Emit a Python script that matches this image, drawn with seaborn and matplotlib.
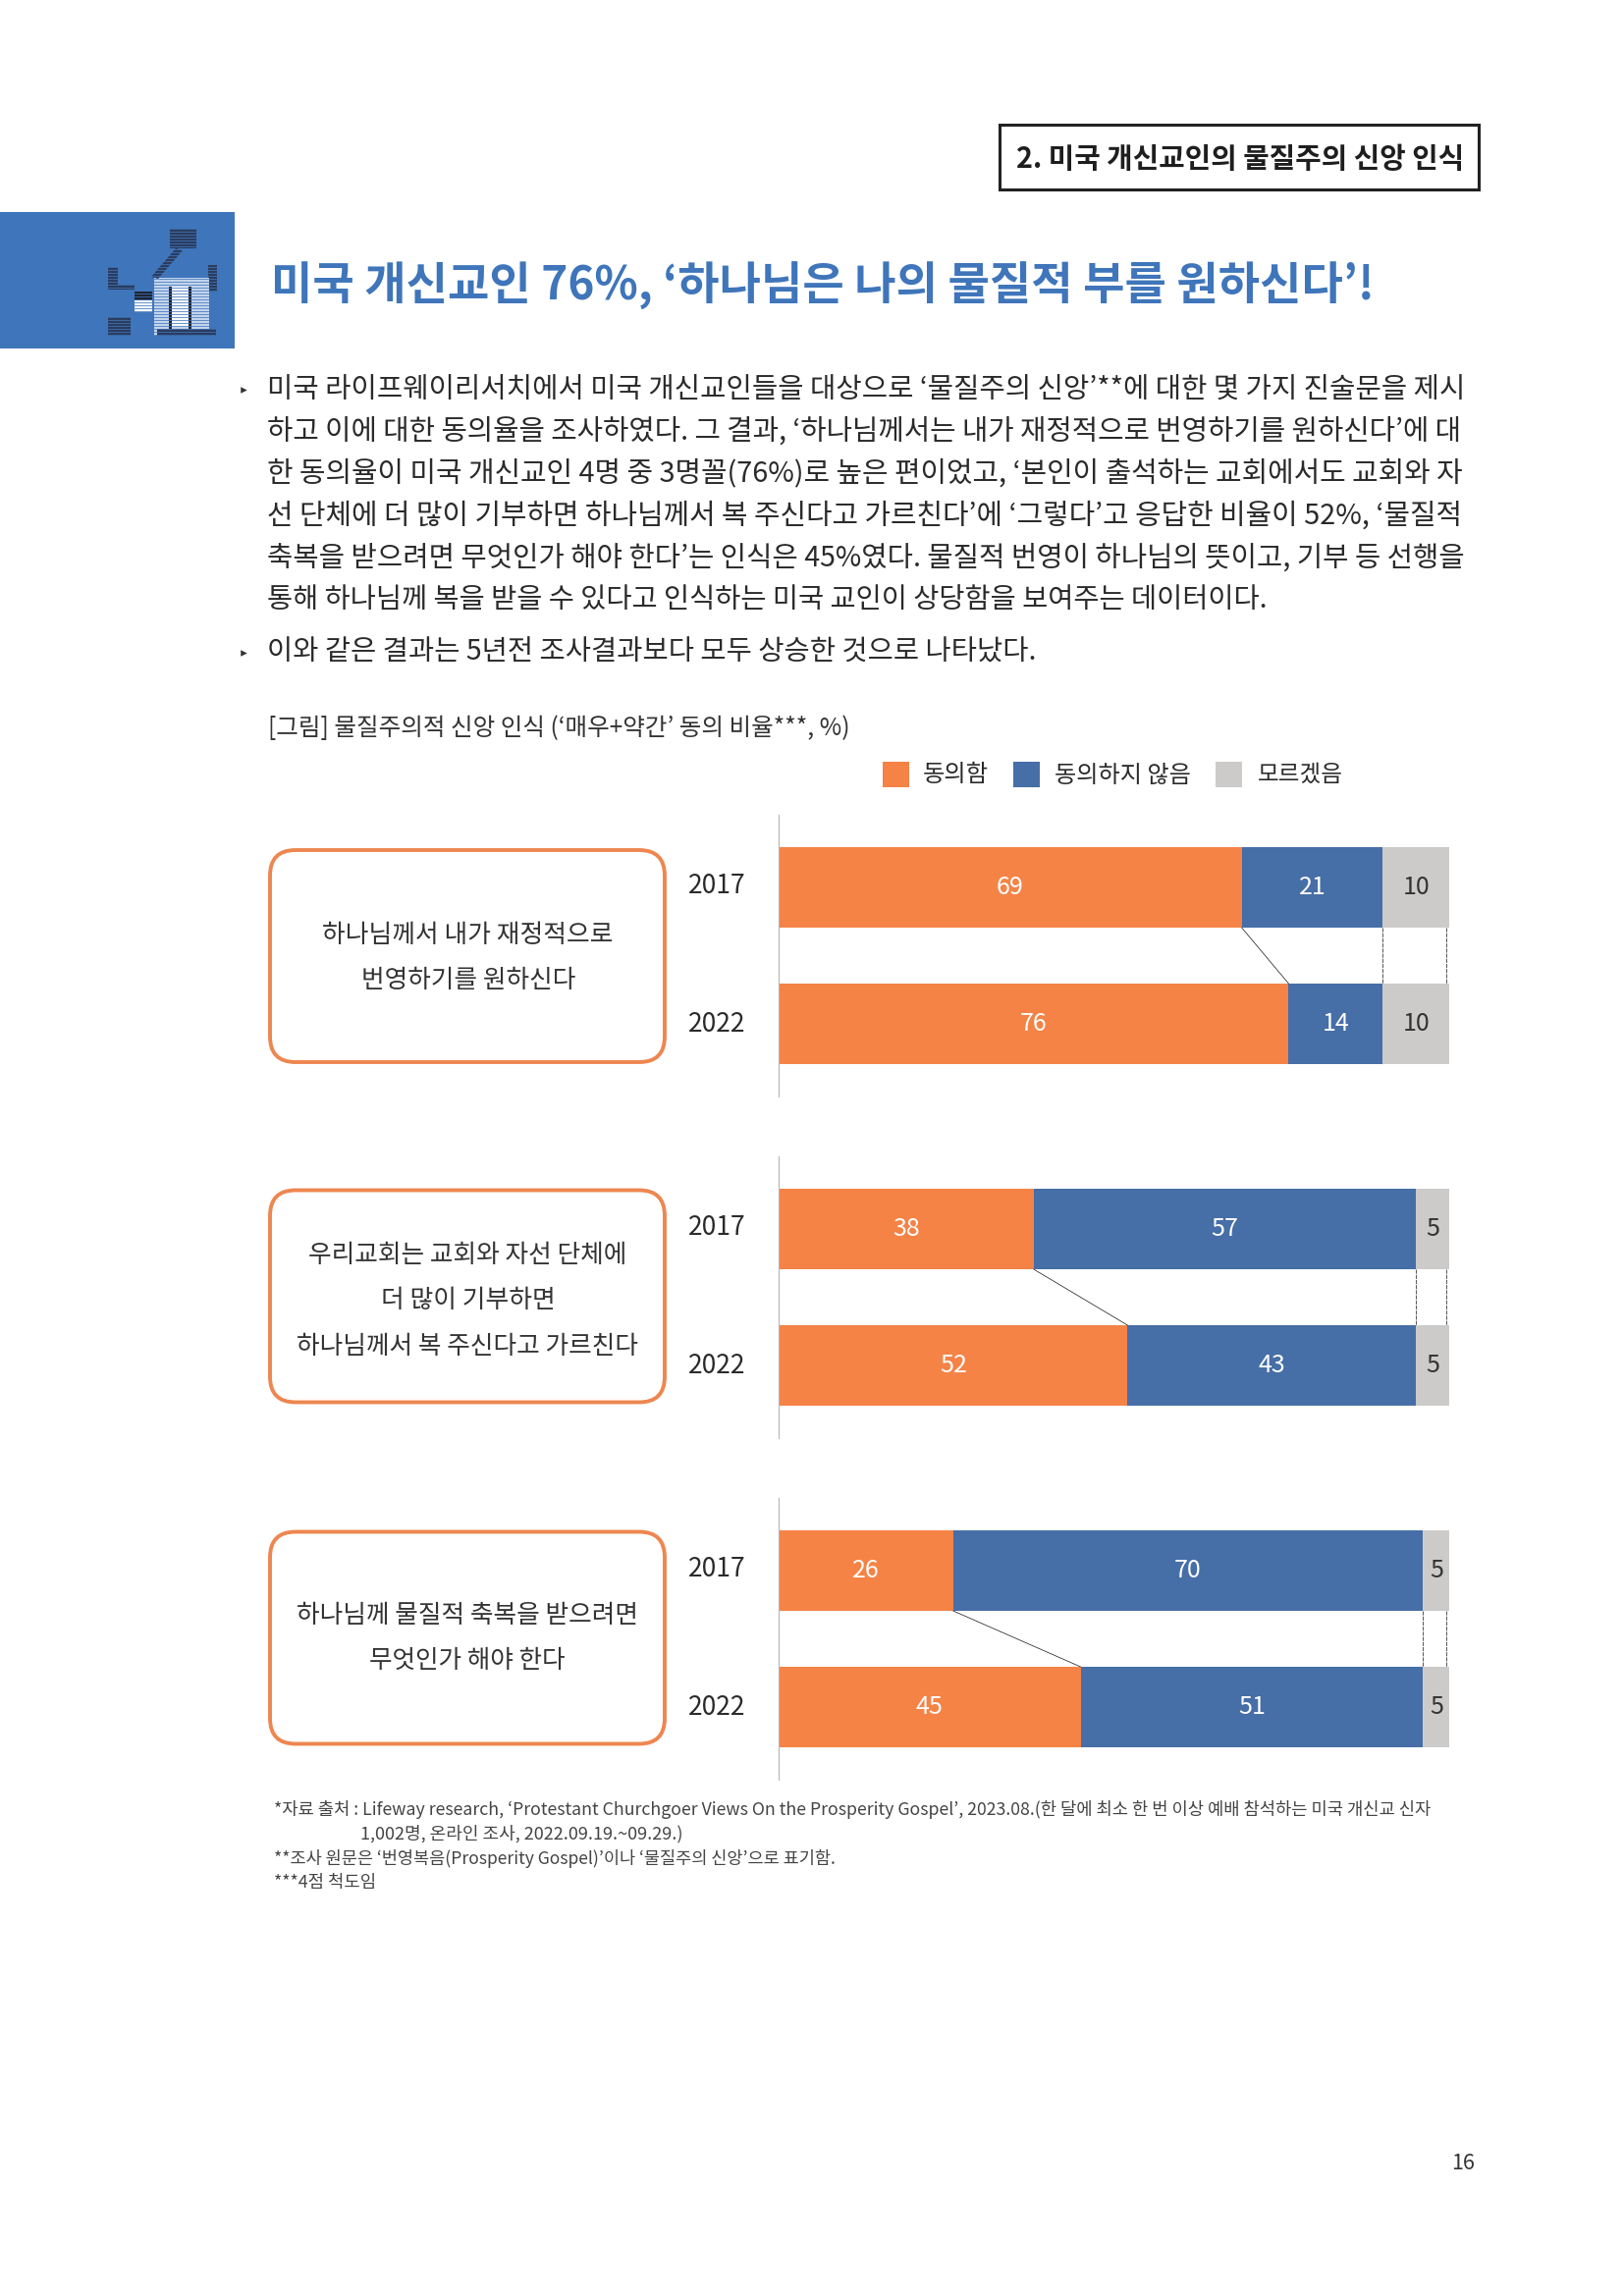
import matplotlib
matplotlib.use("Agg")
import matplotlib.pyplot as plt
from matplotlib.patches import Rectangle, FancyBboxPatch, Polygon
from matplotlib.transforms import ScaledTranslation
import pandas as pd
import seaborn as sns

# ---------- data ----------
years = ["2017", "2022"]
agree_1 = [69, 76]
disagree_1 = [21, 14]
unknown_1 = [10, 10]
agree_2 = [38, 52]
disagree_2 = [57, 43]
unknown_2 = [5, 5]
agree_3 = [26, 45]
disagree_3 = [70, 51]
unknown_3 = [5, 5]
legend_labels = ["동의함", "동의하지 않음", "모르겠음"]
statement_1 = ["하나님께서 내가 재정적으로", "번영하기를 원하신다"]
statement_2 = ["우리교회는 교회와 자선 단체에", "더 많이 기부하면", "하나님께서 복 주신다고 가르친다"]
statement_3 = ["하나님께 물질적 축복을 받으려면", "무엇인가 해야 한다"]
header = "2. 미국 개신교인의 물질주의 신앙 인식"
title = "미국 개신교인 76%, ‘하나님은 나의 물질적 부를 원하신다’!"
body = [
    "미국 라이프웨이리서치에서 미국 개신교인들을 대상으로 ‘물질주의 신앙’**에 대한 몇 가지 진술문을 제시",
    "하고 이에 대한 동의율을 조사하였다. 그 결과, ‘하나님께서는 내가 재정적으로 번영하기를 원하신다’에 대",
    "한 동의율이 미국 개신교인 4명 중 3명꼴(76%)로 높은 편이었고, ‘본인이 출석하는 교회에서도 교회와 자",
    "선 단체에 더 많이 기부하면 하나님께서 복 주신다고 가르친다’에 ‘그렇다’고 응답한 비율이 52%, ‘물질적",
    "축복을 받으려면 무엇인가 해야 한다’는 인식은 45%였다. 물질적 번영이 하나님의 뜻이고, 기부 등 선행을",
    "통해 하나님께 복을 받을 수 있다고 인식하는 미국 교인이 상당함을 보여주는 데이터이다.",
    "이와 같은 결과는 5년전 조사결과보다 모두 상승한 것으로 나타났다.",
]
caption = "[그림] 물질주의적 신앙 인식 (‘매우+약간’ 동의 비율***, %)"
notes = [
    "*자료 출처 : Lifeway research, ‘Protestant Churchgoer Views On the Prosperity Gospel’, 2023.08.(한 달에 최소 한 번 이상 예배 참석하는 미국 개신교 신자",
    "1,002명, 온라인 조사, 2022.09.19.~09.29.)",
    "**조사 원문은 ‘번영복음(Prosperity Gospel)’이나 ‘물질주의 신앙’으로 표기함.",
    "***4점 척도임",
]
page_number = "16"

# ---------- style ----------
ORANGE, BLUE, GREY = "#F58346", "#466EA7", "#CCCBCA"
TITLE_BLUE = "#3F75BA"
BOX_EDGE = "#EE8650"
INK = "#2A2A2A"
sns.set_theme(style="white")
plt.rcParams["font.family"] = ["Noto Sans CJK KR", "DejaVu Sans"]

W, H = 1653, 2339
PLOT_L, PLOT_R = 793, 1476.5
fig = plt.figure(figsize=(W / 100, H / 100), dpi=100, facecolor="white")
bg = fig.add_axes([0, 0, 1, 1], zorder=0)
bg.set_xlim(0, W)
bg.set_ylim(H, 0)
bg.axis("off")
renderer = fig.canvas.get_renderer()


def fit(x0, x1, y, s, size=18, color=INK, weight="light"):
    """One line of text on the page, scaled to the width it has in the layout."""
    t = bg.text(x0, y, s, fontsize=size, color=color, fontweight=weight, ha="left", va="center")
    wid = t.get_window_extent(renderer).width
    t.set_fontsize(size * (x1 - x0) / wid)
    return t


def centered(cx, width, y, s, **kw):
    return fit(cx - width / 2, cx + width / 2, y, s, **kw)


# ---------- page furniture ----------
bg.add_patch(Rectangle((1018, 127), 488, 66, fc="white", ec="#222222", lw=2.2))
fit(1035, 1491, 161.5, header, weight="bold", color="#1e1e1e")

bg.add_patch(Rectangle((0, 216), 239, 139, fc=TITLE_BLUE, ec="none"))
# icon
DARK = "#2B3A5C"
for (x, y, w, h, c) in [
    (173, 233, 27, 20, DARK), (110, 272, 10, 23, DARK), (212, 270, 9, 27, DARK),
    (120, 290, 17, 5, DARK), (157, 283, 56, 59, "#C9D8F0"), (175, 292, 17, 41, "#FFFFFF"),
    (172, 292, 3, 44, "#1D2230"), (192, 292, 3, 44, "#1D2230"), (137, 297, 18, 9, "#1D2230"),
    (137, 306, 18, 12, "#FFFFFF"), (110, 323, 23, 19, DARK), (160, 335, 60, 7, DARK),
]:
    bg.add_patch(Rectangle((x, y), w, h, fc=c, ec="none"))
bg.add_patch(Polygon([(179, 253), (186, 255), (161, 284), (154, 282)], fc=DARK, ec="none"))
for yy in range(233, 344, 3):
    bg.plot([106, 224], [yy, yy], color=TITLE_BLUE, lw=0.8, alpha=0.75)

fit(276, 1398, 291, title, weight="bold", color=TITLE_BLUE)

body_right = [1491.5, 1491.5, 1491.5, 1491.5, 1491.5, 1291.5, 1054.5]
body_y = [398, 440, 482.5, 526, 569, 611, 665]
for s, xr, y in zip(body, body_right, body_y):
    fit(271.5, xr, y, s)
bg.scatter([248, 248], [397, 665], marker=">", s=22, color="#333333", linewidths=0)

fit(273, 865, 742, caption, color="#333333")

legend_cols = [ORANGE, BLUE, GREY]
legend_sq = [899, 1032, 1238]
legend_txt = [(940, 1007), (1074, 1213), (1281, 1368)]
for c, x, (a, b), s in zip(legend_cols, legend_sq, legend_txt, legend_labels):
    bg.add_patch(Rectangle((x, 776), 27, 26, fc=c, ec="none"))
    fit(a, b, 789.5, s)

note_x = [(279, 1457), (367, 696.5), (279, 851.5), (279, 383)]
note_y = [1843.5, 1868, 1893, 1918.5]
for s, (a, b), y in zip(notes, note_x, note_y):
    fit(a, b, y, s, color="#444444")

bg.text(1490, 2204, page_number, fontsize=15.5, color="#333333", fontweight="light", ha="center", va="center")


# ---------- panels ----------
def panel(agree, disagree, unknown, top, box_top, lines, line_y, line_w):
    """top = pixel row of the axis-line top."""
    ax = fig.add_axes([PLOT_L / W, 1 - (top + 287) / H, (PLOT_R - PLOT_L) / W, 287 / H], zorder=2)
    ax.patch.set_alpha(0)
    df = pd.DataFrame({"year": years, "agree": agree, "disagree": disagree, "unknown": unknown})
    df["c1"] = df["agree"]
    df["c2"] = df["c1"] + df["disagree"]
    df["c3"] = df["c2"] + df["unknown"]
    width = 0.59
    for col, colr in [("c3", GREY), ("c2", BLUE), ("c1", ORANGE)]:
        sns.barplot(data=df, y="year", x=col, order=years, orient="h", color=colr,
                    saturation=1, width=width, linewidth=0, ax=ax)
    ax.set_xlim(0, 100)
    ax.set_ylim(1.532, -0.532)
    ax.set_xlabel("")
    ax.set_ylabel("")
    ax.set_xticks([])
    ax.tick_params(axis="y", length=0, pad=24)
    sns.despine(ax=ax, left=False, bottom=True)
    ax.spines["left"].set_color("#B5B5B5")
    ax.spines["left"].set_linewidth(0.8)
    for i, lab in enumerate(ax.get_yticklabels()):
        lab.set_fontsize(19)
        lab.set_fontweight("light")
        lab.set_color(INK)
        up = 0.045 if i == 0 else 0.03
        lab.set_transform(lab.get_transform() + ScaledTranslation(0, up, fig.dpi_scale_trans))

    # value labels
    for i in range(2):
        c1, c2, c3 = df.loc[i, ["c1", "c2", "c3"]]
        ax.text(c1 / 2, i, str(df.loc[i, "agree"]), color="white", fontsize=18, fontweight="light", ha="center", va="center")
        ax.text((c1 + c2) / 2, i, str(df.loc[i, "disagree"]), color="white", fontsize=18, fontweight="light", ha="center", va="center")
        ax.text((c2 + min(c3, 100)) / 2, i, str(df.loc[i, "unknown"]), color="#333333", fontsize=18, fontweight="light", ha="center", va="center")

    # connectors between the two years
    ya, yb = width / 2, 1 - width / 2
    ax.plot(df["c1"], [ya, yb], color="#111111", lw=0.5)
    ax.plot(df["c2"], [ya, yb], color="#111111", lw=0.5, ls=(0, (6, 1.5)))
    ax.plot(df["c3"].clip(upper=99.5), [ya, yb], color="#111111", lw=0.5, ls=(0, (6, 1.5)))

    # statement box
    bg.add_patch(FancyBboxPatch((275 + 26, box_top + 26), 402 - 52, 216 - 52,
                                boxstyle="round,pad=26,rounding_size=26",
                                fc="white", ec=BOX_EDGE, lw=2.8))
    for s, y, w in zip(lines, line_y, line_w):
        centered(476.5, w, y, s, color="#333333")


panel(agree_1, disagree_1, unknown_1, 830, 866, statement_1, [952.5, 998.5], [296, 218])
panel(agree_2, disagree_2, unknown_2, 1178, 1212.5, statement_2, [1279, 1325, 1372], [325, 178, 348])
panel(agree_3, disagree_3, unknown_3, 1526, 1560.5, statement_3, [1646, 1692], [348, 200])

fig.savefig("out.png", dpi=100, facecolor="white")
